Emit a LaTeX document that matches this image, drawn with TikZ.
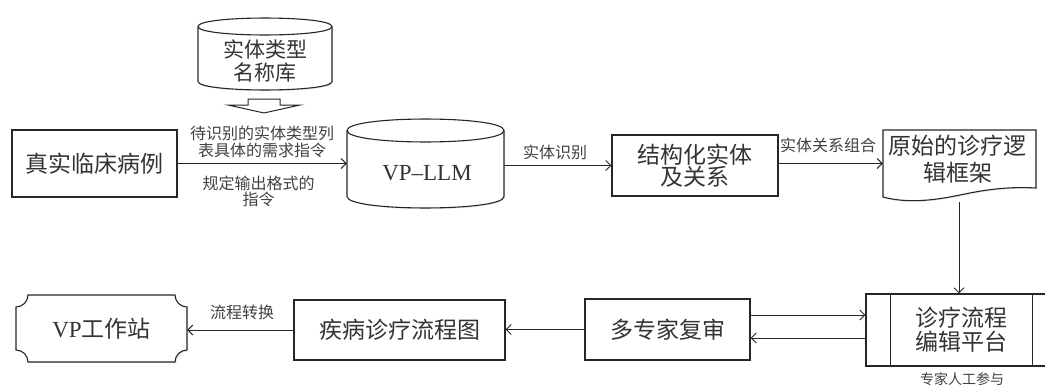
\documentclass[tikz,border=0pt]{standalone}
\usepackage{fontspec}
\setmainfont{Liberation Serif}
\newfontfamily\cjk{Noto Sans CJK SC}
\usetikzlibrary{arrows.meta,shadows}
\newcommand\mybigfont{\cjk\fontsize{23}{26}\selectfont}
\newcommand\mysmallfont{\cjk\fontsize{16}{17}\selectfont}
\begin{document}
\begin{tikzpicture}[x=1pt,y=-1pt,
  line/.style={draw=black!85, line width=1pt},
  arr/.style={line, -{Straight Barb[length=5pt,width=10pt]}},
  shad/.style={drop shadow={shadow xshift=1.2pt, shadow yshift=-1.2pt, opacity=0.18}},
  boxstyle/.style={draw=black!85, line width=1.1pt, fill=white, rectangle, inner sep=0pt, font=\mybigfont, text=black!80, align=center, shad},
  shapeline/.style={draw=black!85, line width=1.1pt, fill=white},
  ghost/.style={rectangle, inner sep=0pt, text=black!80, align=center},
  lbl/.style={font=\mysmallfont, text=black!75, align=center, inner sep=0pt},
]
\useasboundingbox (0,0) rectangle (1045,388);
\clip (0,0) rectangle (1045,388);

% database cylinder
\path[shapeline, shad] (198,26.5) -- (198,81.5) .. controls (198,92.8) and (332,92.8) .. (332,81.5) -- (332,26.5) .. controls (332,15.2) and (198,15.2) .. (198,26.5) -- cycle;
\draw[draw=black!85, line width=1.1pt] (198,26.5) .. controls (198,37.8) and (332,37.8) .. (332,26.5);
\node[ghost, font=\cjk\fontsize{21}{23}\selectfont] (db) at (265,60.5) {实体类型\\名称库};

% hollow arrow
\draw[shapeline, line width=1pt] (248,99) -- (280,99) -- (280,105) -- (300,105) -- (264,113) -- (228,105) -- (248,105) -- cycle;

% case
\node[boxstyle, minimum width=165pt, minimum height=67pt] (case) at (94.5,163.5) {真实临床病例};

% LLM cylinder
\path[shapeline, shad] (347,130.5) -- (347,196.5) .. controls (347,211.8) and (504,211.8) .. (504,196.5) -- (504,130.5) .. controls (504,115.2) and (347,115.2) .. (347,130.5) -- cycle;
\draw[draw=black!85, line width=1.1pt] (347,130.5) .. controls (347,145.8) and (504,145.8) .. (504,130.5);
\node[ghost, minimum width=157pt, minimum height=89pt] (llm) at (425.5,163.5) {};
\node[ghost, font=\rmfamily\fontsize{23}{26}\selectfont] (llmt) at (427,173) {VP–LLM};

% structured entities
\node[boxstyle, minimum width=166pt, minimum height=61pt, font=\cjk\fontsize{23}{22}\selectfont] (struct) at (695,165.5) {结构化实体\\及关系};

% document
\path[shapeline, shad] (883,130) -- (1036,130) -- (1036,188) .. controls (1000,186) and (975,192) .. (955,196) .. controls (930,201) and (905,203) .. (883,197) -- cycle;
\node[ghost, minimum width=153pt, minimum height=67pt] (doc) at (959.5,163.5) {};
\node[ghost, font=\cjk\fontsize{23}{27}\selectfont] (doct) at (957.5,159.5) {原始的诊疗逻\\辑框架};
\coordinate (docb) at (959,202);

% platform
\node[boxstyle, minimum width=191pt, minimum height=72pt, font=\cjk\fontsize{23}{24}\selectfont] (plat) at (961.5,330) {诊疗流程\\编辑平台};
\draw[draw=black!85, line width=1.1pt] ([xshift=25pt]plat.north west) -- ([xshift=25pt]plat.south west);
\draw[draw=black!85, line width=1.1pt] ([xshift=-25pt]plat.north east) -- ([xshift=-25pt]plat.south east);
\node[lbl, font=\cjk\fontsize{14}{15}\selectfont] (human) at (962,379) {专家人工参与};

% review
\node[boxstyle, minimum width=165pt, minimum height=61pt] (rev) at (667.5,329.5) {多专家复审};

% flow chart
\node[boxstyle, minimum width=211pt, minimum height=60pt] (flow) at (399.5,330) {疾病诊疗流程图};

% VP station
\path[shapeline, shad] (28,295) -- (175,295) .. controls (175,301.6) and (180.4,307) .. (187,307) -- (187,350) .. controls (180.4,350) and (175,355.4) .. (175,362) -- (28,362) .. controls (28,355.4) and (22.6,350) .. (16,350) -- (16,307) .. controls (22.6,307) and (28,301.6) .. (28,295) -- cycle;
\node[ghost, minimum width=171pt, minimum height=67pt, font=\mybigfont] (vp) at (101.5,328.5) {{\rmfamily VP}工作站};

% connectors
\draw[arr] (case.east) -- (case.east -| llm.west);
\node[lbl] (l1) at (262,141.5) {待识别的实体类型列\\表具体的需求指令};
\node[lbl, font=\cjk\fontsize{16}{16}\selectfont] (l2) at (258.5,191) {规定输出格式的\\指令};

\draw[arr] (llm.east |- struct.west) -- (struct.west);
\node[lbl] (l3) at (555,152) {实体识别};

\draw[arr] (struct.east |- doc.west) -- (doc.west);
\node[lbl] (l4) at (828,145) {实体关系组合};

\draw[arr] (docb) -- (docb |- plat.north);

\draw[arr] ([yshift=14.5pt]rev.east) -- ([yshift=14.5pt]rev.east -| plat.west);
\draw[arr] ([yshift=-8.5pt]rev.east -| plat.west) -- ([yshift=-8.5pt]rev.east);

\draw[arr] (rev.west) -- (flow.east |- rev.west);

\draw[arr] (flow.west) -- (vp.east |- flow.west);
\node[lbl] (l5) at (242,312) {流程转换};
\end{tikzpicture}
\end{document}
